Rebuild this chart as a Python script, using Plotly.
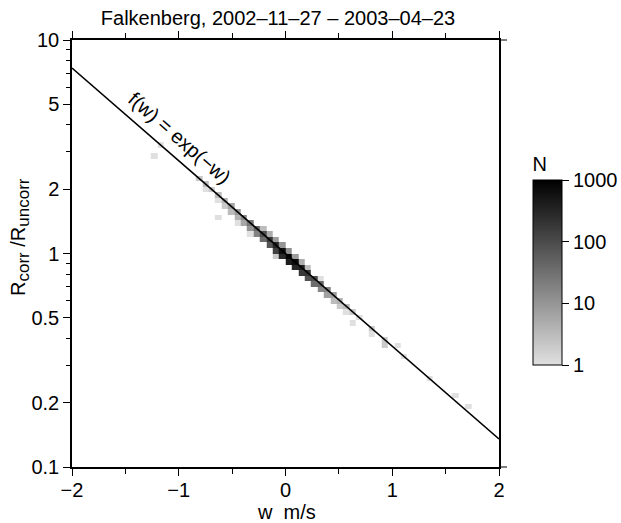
import numpy as np
import plotly.graph_objects as go

# ---------------- data ----------------
# 2-D histogram cells: w bin centre (m/s), R_corr/R_uncorr bin centre, count N
w_cells = [
    # cells on the exp(-w) line
    -0.69, -0.63, -0.57, -0.51, -0.45, -0.39, -0.33, -0.27, -0.21, -0.15, -0.09, -0.03,
    0.03, 0.09, 0.15, 0.21, 0.27, 0.33, 0.39, 0.45, 0.51, 0.57, 0.63, 0.69,
    # cells just below the line
    -0.63, -0.57, -0.51, -0.45, -0.39, -0.33, -0.27, -0.21, -0.15, -0.09, -0.03,
    0.03, 0.09, 0.15, 0.21, 0.27, 0.33, 0.39, 0.45, 0.51, 0.57,
    # cells just above the line
    -0.21, -0.15, -0.09, -0.03, 0.03, 0.09, 0.15, 0.21, 0.33,
    # scattered cells
    -1.23, -1.17, -0.81, -0.75, -0.75, -0.63, -0.45, -0.33, -0.09,
    0.63, 0.81, 0.81, 0.93, 0.93, 1.05, 1.11, 1.35, 1.59, 1.71,
]
r_cells = [
    1.994, 1.878, 1.768, 1.665, 1.568, 1.477, 1.391, 1.310, 1.234, 1.162, 1.094, 1.030,
    0.970, 0.914, 0.861, 0.811, 0.763, 0.719, 0.677, 0.638, 0.600, 0.566, 0.533, 0.502,
    1.768, 1.665, 1.568, 1.477, 1.391, 1.310, 1.234, 1.162, 1.094, 1.030, 0.970,
    0.914, 0.861, 0.811, 0.763, 0.719, 0.677, 0.638, 0.600, 0.566, 0.533,
    1.310, 1.234, 1.162, 1.094, 1.030, 0.970, 0.914, 0.861, 0.763,
    2.930, 3.320, 2.260, 2.170, 2.000, 1.470, 1.380, 1.230, 0.975,
    0.463, 0.443, 0.410, 0.400, 0.369, 0.361, 0.331, 0.261, 0.219, 0.187,
]
n_cells = [
    2, 3, 4, 6, 9, 14, 25, 45, 90, 170, 330, 650,
    1000, 700, 400, 200, 90, 40, 18, 8, 4, 3, 2, 1,
    1, 2, 3, 4, 6, 10, 18, 35, 70, 140, 280,
    400, 300, 170, 80, 35, 15, 7, 3, 2, 1,
    3, 5, 8, 10, 12, 8, 5, 3, 1,
    1, 1, 2, 3, 1, 1, 1, 1, 2,
    1, 2, 1, 2, 2, 1, 1, 1, 1, 1,
]

x_ticks = [-2, -1, 0, 1, 2]
x_tick_text = ["−2", "−1", "0", "1", "2"]
x_minor = [-1.5, -0.5, 0.5, 1.5]
y_ticks = [0.1, 0.2, 0.5, 1, 2, 5, 10]
y_tick_text = ["0.1", "0.2", "0.5", "1", "2", "5", "10"]
y_minor = [0.3, 0.4, 0.6, 0.7, 0.8, 0.9, 3, 4, 6, 7, 8, 9]
cb_ticks = [1, 10, 100, 1000]

title_text = "Falkenberg, 2002–11–27 – 2003–04–23"
x_title = "w  m/s"
y_title = ("R<sub><span style='font-size:17px'>corr</span></sub> /"
           "R<sub><span style='font-size:17px'>uncorr</span></sub>")

# ---------------- binning grid ----------------
dw = 0.06
dln = 0.06
w_edges = np.round(np.arange(-34, 35) * dw, 6)
ln_edges = np.round(np.arange(-40, 41) * dln, 6)
r_edges = np.exp(ln_edges)

z = np.full((len(ln_edges) - 1, len(w_edges) - 1), np.nan)
for w, r, n in zip(w_cells, r_cells, n_cells):
    i = np.searchsorted(w_edges, w) - 1
    j = np.searchsorted(ln_edges, np.log(r)) - 1
    z[j, i] = np.log10(n) if np.isnan(z[j, i]) else np.log10(10 ** z[j, i] + n)

FONT = "Liberation Sans, Arial, Helvetica, sans-serif"
FS = 20
W, H = 621, 523
L, R_, T, B = 72, 122, 40, 56
plot_w = W - L - R_
plot_h = H - T - B

cb_top_px, cb_bot_px = 153, 365
cb_left_px, cb_thick = 533, 29
cb_y_top = (H - B - cb_top_px) / plot_h
cb_len = cb_bot_px - cb_top_px
cb_x = (cb_left_px - L) / plot_w

fig = go.Figure()
fig.add_trace(go.Heatmap(
    x=w_edges, y=r_edges, z=z,
    zmin=0, zmax=3,
    colorscale=[[0, "rgb(224,224,224)"], [1, "rgb(0,0,0)"]],
    hoverongaps=False,
    colorbar=dict(
        title=dict(text="N", side="top", font=dict(size=FS, color="black", family=FONT)),
        tickvals=np.log10(cb_ticks), ticktext=[str(v) for v in cb_ticks],
        ticks="outside", ticklen=7, tickcolor="black",
        tickfont=dict(size=FS, color="black", family=FONT),
        outlinewidth=1, outlinecolor="black",
        thickness=cb_thick, thicknessmode="pixels",
        len=cb_len, lenmode="pixels",
        x=cb_x, xanchor="left", xpad=0,
        y=cb_y_top, yanchor="top", ypad=0,
    ),
))

w_line = np.linspace(-2, 2, 41)
fig.add_trace(go.Scatter(x=w_line, y=np.exp(-w_line), mode="lines",
                         line=dict(color="black", width=1.6), showlegend=False,
                         hoverinfo="skip"))

# internal colorbar lines at 10 and 100
cb_x1 = cb_x + cb_thick / plot_w
for v in [10, 100]:
    frac = np.log10(v) / 3
    yp = cb_y_top - (1 - frac) * cb_len / plot_h
    fig.add_shape(type="line", xref="paper", yref="paper",
                  x0=cb_x, x1=cb_x1, y0=yp, y1=yp,
                  line=dict(color="black", width=1))

# small frame overshoots at the right-hand corners
for yp in [0, 1]:
    fig.add_shape(type="line", xref="paper", yref="paper",
                  x0=1, x1=1 + 8 / plot_w, y0=yp, y1=yp,
                  line=dict(color="black", width=1))

fig.add_annotation(x=-0.99, y=np.log10(3.49), xref="x", yref="y",
                   text="f(w) = exp(−w)", showarrow=False, textangle=41,
                   font=dict(size=FS, color="black", family=FONT))

# axis titles
fig.add_annotation(x=(286 - L) / plot_w, y=(H - B - 512) / plot_h,
                   xref="paper", yref="paper", text=x_title, showarrow=False,
                   xanchor="center", yanchor="middle",
                   font=dict(size=FS, color="black", family=FONT))
fig.add_annotation(x=(20 - L) / plot_w, y=(H - B - 237) / plot_h,
                   xref="paper", yref="paper", text=y_title, showarrow=False,
                   textangle=-90, xanchor="center", yanchor="middle",
                   font=dict(size=FS, color="black", family=FONT))

fig.update_layout(
    width=W, height=H,
    margin=dict(l=L, r=R_, t=T, b=B, autoexpand=False),
    paper_bgcolor="white", plot_bgcolor="white",
    font=dict(family=FONT, color="black", size=FS),
    title=dict(text=title_text, x=278 / W, xanchor="center",
               y=1 - 18 / H, yanchor="middle",
               font=dict(size=FS, color="black", family=FONT)),
    showlegend=False,
)
fig.update_xaxes(
    range=[-2, 2], tickvals=x_ticks, ticktext=x_tick_text,
    ticks="outside", ticklen=7, tickcolor="black", tickwidth=1,
    ticklabelstandoff=-3,
    minor=dict(tickvals=x_minor, ticks="outside", ticklen=5, tickcolor="black"),
    showline=True, linecolor="black", linewidth=1.5, mirror="ticks",
    showgrid=False, zeroline=False, automargin=False,
    tickfont=dict(size=FS),
)
fig.update_yaxes(
    type="log", range=[-1, 1], tickvals=y_ticks, ticktext=y_tick_text,
    ticks="outside", ticklen=7, tickcolor="black", tickwidth=1,
    minor=dict(tickvals=y_minor, ticks="outside", ticklen=4, tickcolor="black"),
    showline=True, linecolor="black", linewidth=1.5, mirror=True,
    showgrid=False, zeroline=False, automargin=False,
    tickfont=dict(size=FS),
)

fig.write_html("out.html")
